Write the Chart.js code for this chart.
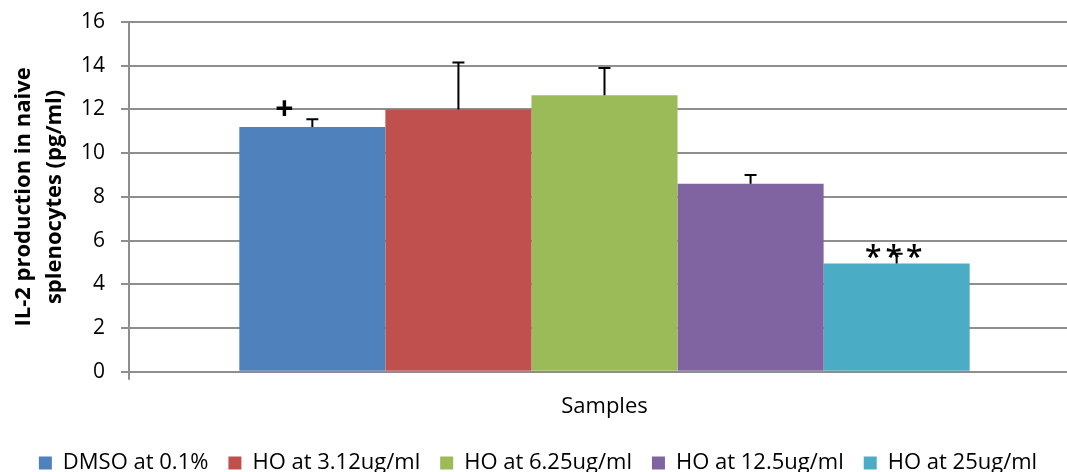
<!DOCTYPE html>
<html>
<head>
<meta charset="utf-8">
<script src="https://cdn.jsdelivr.net/npm/chart.js@4/dist/chart.umd.min.js"></script>
<style>
    html, body { margin: 0; padding: 0; background: #fff; }
    #wrap { width: 1067px; height: 472px; }
</style>
</head>
<body>
<div id="wrap"><canvas id="il2Chart" width="1067" height="472"></canvas></div>
<script>
// ==================== DATA ====================

const categories = [''];
const sampleNames = ['DMSO at 0.1%', 'HO at 3.12ug/ml', 'HO at 6.25ug/ml', 'HO at 12.5ug/ml', 'HO at 25ug/ml'];
const sampleValues = [11.2, 12.0, 12.65, 8.6, 4.95];
const sampleErrors = [0.35, 2.15, 1.25, 0.4, 0.45];
const sampleMarks = ['+', '', '', '', '***'];
const barColors = ['#4F81BD', '#C0504D', '#9BBB59', '#8064A2', '#4BACC6'];
const yTicks = [0, 2, 4, 6, 8, 10, 12, 14, 16];

const FONT = "'Open Sans', 'Liberation Sans', sans-serif";
const PLOT_OVERHANG = 13; // plot area runs past the right edge of the picture

// ==================== PLUGINS ====================

// upward-only error bars, drawn from each bar's own value
const errorBarPlugin = {
    id: 'errorBars',
    afterDatasetsDraw(chart) {
        const ctx = chart.ctx;
        const yScale = chart.scales.y;
        ctx.save();
        ctx.strokeStyle = '#000';
        ctx.lineWidth = 2;
        chart.data.datasets.forEach((ds, i) => {
            const bar = chart.getDatasetMeta(i).data[0];
            if (!bar) return;
            const top = yScale.getPixelForValue(ds.data[0] + sampleErrors[i]);
            ctx.beginPath();
            ctx.moveTo(bar.x, bar.y);
            ctx.lineTo(bar.x, top);
            ctx.moveTo(bar.x - 6, top);
            ctx.lineTo(bar.x + 6, top);
            ctx.stroke();
        });
        ctx.restore();
    }
};

// significance marks above bars
const marksPlugin = {
    id: 'sigMarks',
    afterDatasetsDraw(chart) {
        const ctx = chart.ctx;
        ctx.save();
        ctx.fillStyle = '#000';
        ctx.textAlign = 'center';
        ctx.textBaseline = 'middle';
        chart.data.datasets.forEach((ds, i) => {
            const mark = sampleMarks[i];
            if (!mark) return;
            const bar = chart.getDatasetMeta(i).data[0];
            if (mark === '+') {
                ctx.font = 'bold 32px ' + FONT;
                ctx.fillText(mark, bar.x - 28, bar.y - 16);
            } else {
                // spaced-out asterisks, one glyph at a time
                ctx.font = '600 30px ' + FONT;
                const step = 20.5;
                const start = bar.x - 3 - step * (mark.length - 1) / 2;
                for (let k = 0; k < mark.length; k++) {
                    ctx.fillText(mark[k], start + k * step, bar.y - 5);
                }
            }
        });
        ctx.restore();
    }
};

// nudge the legend down, and stretch the plot past the right edge
const layoutTweakPlugin = {
    id: 'layoutTweak',
    afterLayout(chart) {
        if (chart.legend) {
            chart.legend.top += 12;
            chart.legend.bottom += 12;
        }
        const x = chart.scales.x;
        x.right += PLOT_OVERHANG;
        x.width += PLOT_OVERHANG;
        x.configure();
        chart.chartArea.right += PLOT_OVERHANG;
        chart.chartArea.width += PLOT_OVERHANG;
    }
};

// ==================== SETUP CHART ====================

const datasets = sampleNames.map((name, i) => ({
    label: name,
    data: [sampleValues[i]],
    backgroundColor: barColors[i],
    borderWidth: 0,
    barPercentage: 1.0,
    categoryPercentage: 0.768
}));

new Chart(document.getElementById('il2Chart'), {
    type: 'bar',
    data: { labels: categories, datasets: datasets },
    plugins: [errorBarPlugin, marksPlugin, layoutTweakPlugin],
    options: {
        responsive: false,
        animation: false,
        devicePixelRatio: 1,
        layout: { padding: { top: 22, right: 0, left: 9, bottom: 0 } },
        plugins: {
            tooltip: { enabled: false },
            legend: {
                position: 'bottom',
                labels: {
                    color: '#000',
                    font: { family: FONT, size: 22 },
                    boxWidth: 13,
                    boxHeight: 13,
                    padding: 20
                }
            }
        },
        scales: {
            y: {
                min: 0,
                max: 16,
                afterBuildTicks(axis) { axis.ticks = yTicks.map(v => ({ value: v })); },
                afterFit(axis) {
                    axis.width = 120;
                    // tick padding should not push the plot down
                    axis.paddingTop = 0;
                    axis.paddingBottom = 0;
                },
                border: { color: '#8e8e8e', width: 2 },
                grid: { color: '#8e8e8e', lineWidth: 2, tickLength: 8 },
                ticks: { color: '#000', font: { family: FONT, size: 21 }, padding: 16 },
                title: {
                    display: true,
                    text: ['IL-2 production in naive', 'splenocytes (pg/ml)'],
                    color: '#000',
                    font: { family: FONT, size: 22, weight: 'bold', lineHeight: 1.38 },
                    padding: { top: 0, bottom: 0 }
                }
            },
            x: {
                border: { color: '#8e8e8e', width: 2 },
                grid: { drawOnChartArea: false, color: '#8e8e8e', lineWidth: 2, tickLength: 8 },
                ticks: { display: true, font: { family: FONT, size: 4 }, padding: 0 },
                title: {
                    display: true,
                    text: 'Samples',
                    color: '#000',
                    font: { family: FONT, size: 22 },
                    padding: { top: 9, bottom: 0 }
                }
            }
        }
    }
});
</script>
</body>
</html>
